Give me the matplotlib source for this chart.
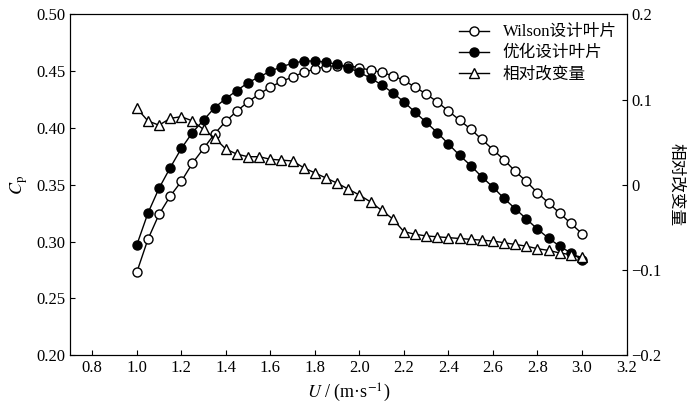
import numpy as np
import matplotlib
matplotlib.use("Agg")
import matplotlib.pyplot as plt

plt.rcParams['font.family'] = ['Liberation Serif', 'Noto Sans CJK SC']
plt.rcParams['mathtext.fontset'] = 'stix'

u = np.round(np.arange(1.0, 3.0001, 0.05), 2)

wilson = [0.273, 0.302, 0.324, 0.340, 0.353, 0.369, 0.382, 0.395, 0.406, 0.415,
          0.423, 0.430, 0.436, 0.441, 0.445, 0.449, 0.452, 0.454, 0.455, 0.455,
          0.453, 0.451, 0.449, 0.446, 0.442, 0.436, 0.430, 0.423, 0.415, 0.407,
          0.399, 0.390, 0.381, 0.372, 0.362, 0.353, 0.343, 0.334, 0.325, 0.316, 0.307]
optimized = [0.297, 0.325, 0.347, 0.365, 0.382, 0.396, 0.407, 0.418, 0.426, 0.433,
             0.440, 0.445, 0.450, 0.454, 0.457, 0.459, 0.459, 0.458, 0.456, 0.453,
             0.449, 0.444, 0.438, 0.431, 0.423, 0.414, 0.405, 0.396, 0.386, 0.376,
             0.367, 0.357, 0.348, 0.338, 0.329, 0.320, 0.311, 0.303, 0.296, 0.290, 0.284]
relative = [0.090, 0.075, 0.070, 0.078, 0.080, 0.075, 0.065, 0.055, 0.042, 0.036,
            0.033, 0.033, 0.030, 0.029, 0.028, 0.020, 0.014, 0.008, 0.002, -0.005,
            -0.012, -0.020, -0.030, -0.040, -0.055, -0.058, -0.060, -0.061, -0.062, -0.063,
            -0.064, -0.065, -0.066, -0.068, -0.070, -0.072, -0.075, -0.077, -0.080, -0.082, -0.085]

fig, ax = plt.subplots(figsize=(7, 4.13), dpi=100)
fig.subplots_adjust(left=0.1, right=0.895, top=0.965, bottom=0.14)
ax2 = ax.twinx()

l1, = ax.plot(u, wilson, '-o', color='black', mfc='white', ms=6.5, lw=1, label='Wilson设计叶片')
l2, = ax.plot(u, optimized, '-o', color='black', mfc='black', ms=6.5, lw=1, label='优化设计叶片')
l3, = ax2.plot(u, relative, '-^', color='black', mfc='white', ms=7.5, lw=1, label='相对改变量')

ax.set_xlim(0.7, 3.2)
ax.set_ylim(0.20, 0.50)
ax2.set_ylim(-0.2, 0.2)
ax.set_xticks(np.arange(0.8, 3.21, 0.2))
ax.set_yticks(np.arange(0.20, 0.501, 0.05))
ax2.set_yticks([-0.2, -0.1, 0, 0.1, 0.2])
ax2.set_yticklabels(['−0.2', '−0.1', '0', '0.1', '0.2'])
ax.xaxis.set_major_formatter(matplotlib.ticker.FormatStrFormatter('%.1f'))
ax.yaxis.set_major_formatter(matplotlib.ticker.FormatStrFormatter('%.2f'))
for a in (ax, ax2):
    a.tick_params(direction='in', labelsize=12)

ax.set_xlabel(r'$U$ / (m·s$^{-1}$)', fontsize=13)
ax.set_ylabel(r'$C_{\rm p}$', fontsize=13)
ax2.set_ylabel('相对改变量', rotation=270, labelpad=16, fontsize=12)

ax.legend(handles=[l1, l2, l3], loc='upper right', frameon=False, fontsize=12,
          handlelength=1.8, borderaxespad=0.2, labelspacing=0.3)

fig.savefig('out.png')
